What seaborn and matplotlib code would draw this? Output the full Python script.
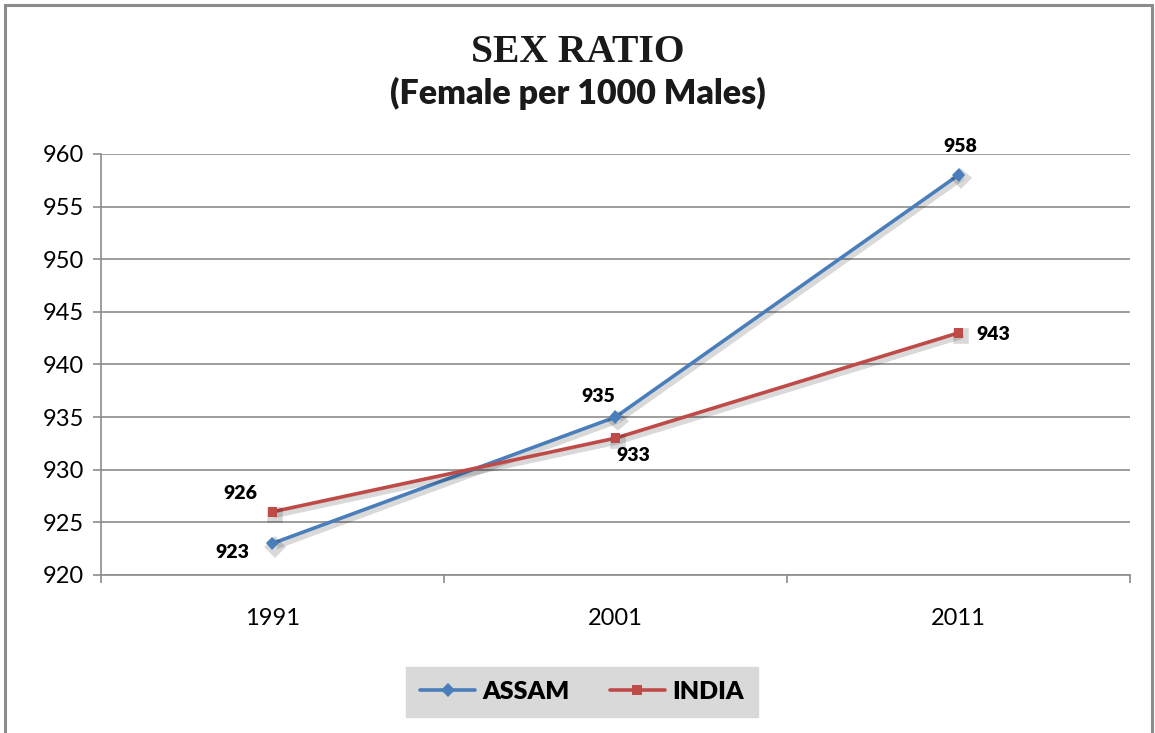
import matplotlib
matplotlib.use("Agg")
import matplotlib.pyplot as plt
import matplotlib.patheffects as pe
from matplotlib.patches import Rectangle
import seaborn as sns
import pandas as pd

# data
years = ["1991", "2001", "2011"]
assam = [923, 935, 958]
india = [926, 933, 943]
series_names = ["ASSAM", "INDIA"]
y_ticks = [920, 925, 930, 935, 940, 945, 950, 955, 960]

# label offsets (pixels) for each point, per series
label_offsets = {
    "ASSAM": [(-40, -9), (-17, 21), (2, 28)],
    "INDIA": [(-32, 18), (18, -17), (35, -2)],
}

df = pd.DataFrame({
    "year": years * 2,
    "value": assam + india,
    "series": ["ASSAM"] * 3 + ["INDIA"] * 3,
})

sns.set_theme(style="white")
plt.rcParams["font.family"] = ["Lato", "DejaVu Sans"]

colors = {"ASSAM": "#4A7EBB", "INDIA": "#BE4B48"}
markers = {"ASSAM": "D", "INDIA": "s"}

fig = plt.figure(figsize=(11.55, 7.33), dpi=100)
ax = fig.add_axes([0.0874, 0.2156, 0.891, 0.5744])

sns.lineplot(data=df, x="year", y="value", hue="series", style="series",
             palette=colors, markers=markers, dashes=False, linewidth=2.6,
             markersize=7, markeredgewidth=0, ax=ax, legend=False, sort=False)

shadow = [pe.SimpleLineShadow(offset=(2, -2.5), alpha=0.15, shadow_color="black",
                              linewidth=4),
          pe.Normal()]
for line in ax.get_lines():
    line.set_path_effects(shadow)

# data labels
for name, vals in zip(series_names, [assam, india]):
    for i, v in enumerate(vals):
        ax.annotate(f"{v}", (i, v), xytext=label_offsets[name][i],
                    textcoords="offset pixels", ha="center", va="center",
                    fontsize=14, fontweight="heavy", color="black")

ax.set_xlim(-0.5, 2.5)
ax.set_ylim(920, 960)
ax.set_yticks(y_ticks)
ax.set_yticklabels([str(t) for t in y_ticks], fontsize=17)
ax.set_xticks(range(len(years)))
ax.set_xticklabels(years, fontsize=17)
ax.set_xticks([-0.5, 0.5, 1.5, 2.5], minor=True)
ax.set_xlabel("")
ax.set_ylabel("")

grid_c = "#8C8C8C"
ax.yaxis.grid(True, color=grid_c, linewidth=1.2)
ax.set_axisbelow(True)
for s in ["top", "right"]:
    ax.spines[s].set_visible(False)
for s in ["left", "bottom"]:
    ax.spines[s].set_color(grid_c)
    ax.spines[s].set_linewidth(1.2)

ax.tick_params(axis="y", which="major", left=True, length=6, width=1.2,
               color=grid_c, pad=6, labelcolor="black")
ax.tick_params(axis="x", which="major", bottom=False, length=0, pad=24,
               labelcolor="black")
ax.tick_params(axis="x", which="minor", bottom=True, length=6, width=1.2,
               color=grid_c)

# titles
fig.text(0.5, 0.928, "SEX RATIO", ha="center", va="center",
         fontsize=28.5, fontweight="bold", family="Liberation Serif",
         color="#1a1a1a")
fig.text(0.5, 0.873, "(Female per 1000 Males)", ha="center", va="center",
         fontsize=24.5, fontweight="heavy", color="#1a1a1a")

# legend
handles = [plt.Line2D([], [], color=colors[n], marker=markers[n], lw=2.6,
                      markersize=7, markeredgewidth=0) for n in series_names]
leg = fig.legend(handles, series_names, loc="center",
                 bbox_to_anchor=(582 / 1155, 1 - 692 / 733), ncol=2,
                 frameon=True, fancybox=False, handlelength=2.2,
                 columnspacing=1.6, handletextpad=0.3, borderpad=0.55,
                 labelcolor="black",
                 prop={"size": 18, "weight": "heavy"})
leg.get_frame().set_facecolor("#D9D9D9")
leg.get_frame().set_edgecolor("#D9D9D9")
leg.get_frame().set_alpha(1)

# outer chart border
fig.patches.append(Rectangle((5 / 1155, -0.02), 1147 / 1155, 1.02 - 5 / 733,
                             transform=fig.transFigure, fill=False,
                             edgecolor="#8C8C8C", linewidth=2.2))

fig.savefig("out.png", dpi=100)
